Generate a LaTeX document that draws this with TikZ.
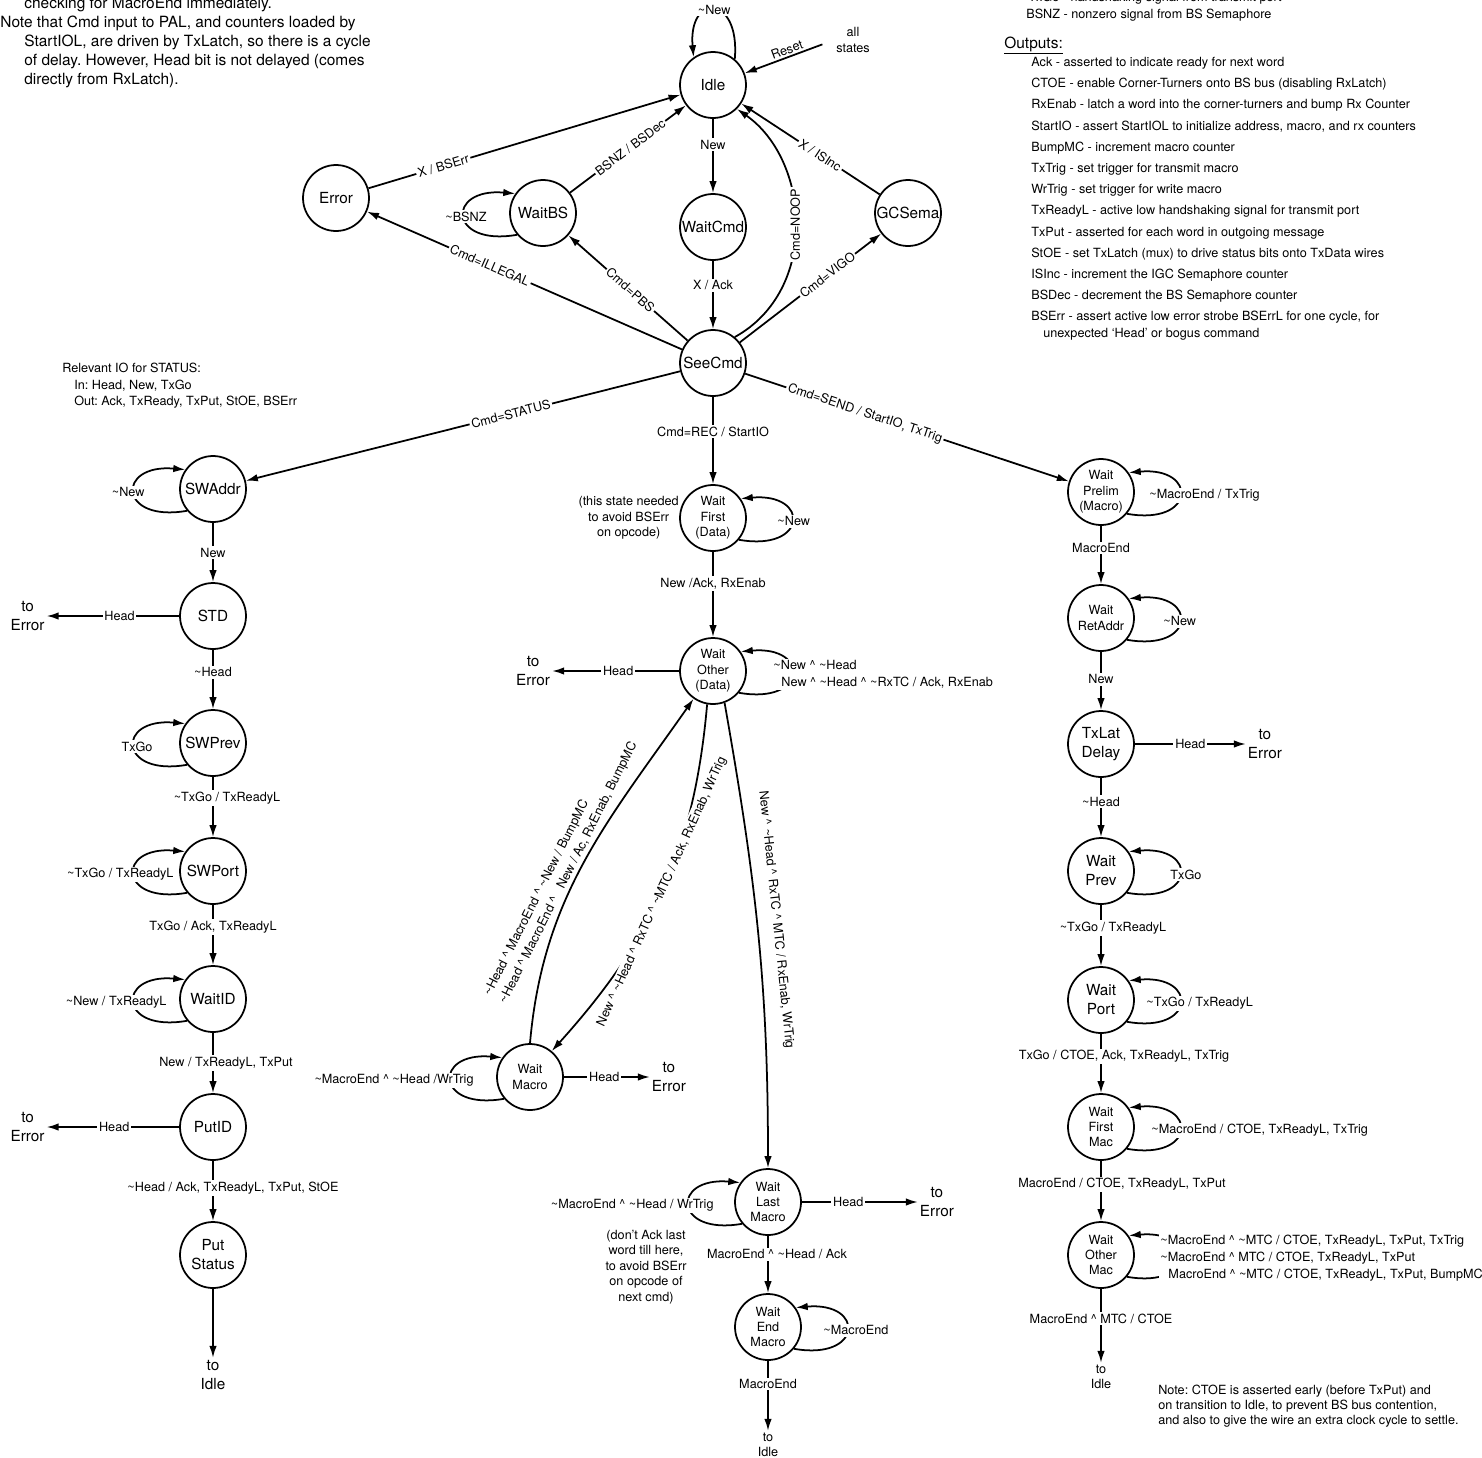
\documentclass[tikz,border=0pt]{standalone}
\usepackage{fontspec}
\setmainfont{TeX Gyre Heros}
\usetikzlibrary{arrows.meta, positioning}
\frenchspacing

\newcommand{\tnot}{\textasciitilde}
\newcommand{\andsym}{\textasciicircum}
\newcommand{\lblfont}{\fontsize{7.2}{9.4}\selectfont}
\newcommand{\statefont}{\fontsize{8.7}{10.8}\selectfont}
\newcommand{\subfont}{\fontsize{7.2}{8.8}\selectfont}
\newcommand{\notefont}{\fontsize{8.8}{10.8}\selectfont}

\begin{document}
\begin{tikzpicture}[
  x=0.02cm, y=0.02cm,
  state/.style={draw, circle, line width=1pt, minimum size=1.32cm, inner sep=0pt, align=center, font=\statefont},
  substate/.style={state, font=\subfont},
  term/.style={align=center, inner sep=1pt, font=\statefont},
  subterm/.style={term, font=\subfont},
  lbl/.style={fill=white, inner sep=1pt, font=\lblfont},
  lblL/.style={lbl, anchor=east, xshift=#1},
  lblR/.style={lbl, anchor=west, xshift=#1},
  txt/.style={anchor=base west, inner sep=0pt, font=\lblfont},
  arr/.style={-{Latex[length=2.4mm, width=1.5mm]}, line width=1pt},
  loopL/.style={out=190, in=175, distance=1.4cm},
  loopR/.style={out=-10, in=5, distance=1.4cm},
]
  \useasboundingbox (0,0) rectangle (1482,-1458);

  \foreach \xx/\yy/\entry [count=\i] in {24/8/{checking for MacroEnd immediately.},
      0/27.5/{Note that Cmd input to PAL, and counters loaded by},
      24/46.5/{StartIOL, are driven by TxLatch, so there is a cycle},
      24/65.3/{of delay. However, Head bit is not delayed (comes},
      24/84/{directly from RxLatch).}}
    \node[txt, font=\notefont] (note\i) at (\xx,-\yy) {\entry};

  \node[txt] (inTxGo) at (1028,-1.5) {TxGo - handshaking signal from transmit port};
  \node[txt] (inBSNZ) at (1026,-18.5) {BSNZ - nonzero signal from BS Semaphore};
  \node[txt, font=\notefont] (outHead) at (1004,-48) {\underline{Outputs:}};
  \foreach \entry [count=\i] in {{Ack - asserted to indicate ready for next word},
      {CTOE - enable Corner-Turners onto BS bus (disabling RxLatch)},
      {RxEnab - latch a word into the corner-turners and bump Rx Counter},
      {StartIO - assert StartIOL to initialize address, macro, and rx counters},
      {BumpMC - increment macro counter},
      {TxTrig - set trigger for transmit macro},
      {WrTrig - set trigger for write macro},
      {TxReadyL - active low handshaking signal for transmit port},
      {TxPut - asserted for each word in outgoing message},
      {StOE - set TxLatch (mux) to drive status bits onto TxData wires},
      {ISInc - increment the IGC Semaphore counter},
      {BSDec - decrement the BS Semaphore counter},
      {BSErr - assert active low error strobe BSErrL for one cycle, for}}
    \node[txt] (out\i) at (1031,{-66.5-21.2*(\i-1)}) {\entry};
  \node[txt] (outMore) at (1043,-337) {unexpected `Head' or bogus command};

  \node[txt] (io1) at (62,-372) {Relevant IO for STATUS:};
  \node[txt] (io2) at (74,-389) {In: Head, New, TxGo};
  \node[txt] (io3) at (74,-405) {Out: Ack, TxReady, TxPut, StOE, BSErr};

  \node[txt] (ctoe1) at (1158,-1394) {Note: CTOE is asserted early (before TxPut) and};
  \node[txt] (ctoe2) at (1158,-1409) {on transition to Idle, to prevent BS bus contention,};
  \node[txt] (ctoe3) at (1158,-1424) {and also to give the wire an extra clock cycle to settle.};

  \node[state] (Idle) at (713,-85) {Idle};
  \node[state] (WaitCmd) at (713,-227) {WaitCmd};
  \node[state] (SeeCmd) at (713,-363) {SeeCmd};
  \node[state] (Error) at (336,-198) {Error};
  \node[state] (WaitBS) at (543,-213) {WaitBS};
  \node[state] (GCSema) at (908,-213) {GCSema};

  \node[state] (SWAddr) at (213,-489) {SWAddr};
  \node[state] (STD) at (213,-616) {STD};
  \node[state] (SWPrev) at (213,-743) {SWPrev};
  \node[state] (SWPort) at (213,-871) {SWPort};
  \node[state] (WaitID) at (213,-999) {WaitID};
  \node[state] (PutID) at (213,-1127) {PutID};
  \node[state] (PutStatus) at (213,-1255) {Put\\Status};

  \node[substate] (WaitFirst) at (713,-518) {Wait\\First\\(Data)};
  \node[substate] (WaitOther) at (713,-671) {Wait\\Other\\(Data)};
  \node[substate] (WaitMacro) at (530,-1077) {Wait\\Macro};
  \node[substate] (WaitLast) at (768,-1202) {Wait\\Last\\Macro};
  \node[substate] (WaitEnd) at (768,-1327) {Wait\\End\\Macro};

  \node[substate] (WaitPrelim) at (1101,-492) {Wait\\Prelim\\(Macro)};
  \node[substate] (WaitRet) at (1101,-618) {Wait\\RetAddr};
  \node[state] (TxLat) at (1101,-744) {TxLat\\Delay};
  \node[state] (WaitPrev) at (1101,-871) {Wait\\Prev};
  \node[state] (WaitPort) at (1101,-1000) {Wait\\Port};
  \node[substate] (WaitFMac) at (1101,-1127) {Wait\\First\\Mac};
  \node[substate] (WaitOMac) at (1101,-1255) {Wait\\Other\\Mac};

  \node[subterm] (allStates) at (853,-40) {all\\states};
  \node[term, left=2.65cm of STD] (errSTD) {to\\Error};
  \node[term, left=2.65cm of PutID] (errPutID) {to\\Error};
  \node[term, left=2.54cm of WaitOther] (errOther) {to\\Error};
  \node[term, right=1.72cm of WaitMacro] (errMacro) {to\\Error};
  \node[term, right=2.32cm of WaitLast] (errLast) {to\\Error};
  \node[term, right=2.22cm of TxLat] (errTxLat) {to\\Error};
  \node[term, below=1.38cm of PutStatus] (idleL) {to\\Idle};
  \node[subterm, below=1.4cm of WaitEnd] (idleM) {to\\Idle};
  \node[subterm, below=1.48cm of WaitOMac] (idleR) {to\\Idle};

  \node[txt, anchor=center, align=center, font=\subfont, left=0pt of WaitFirst] (noteFirst) {(this state needed\\to avoid BSErr\\on opcode)};
  \node[txt, anchor=center, align=center, font=\subfont] (noteLast) at (646,-1267) {(don't Ack last\\word till here,\\to avoid BSErr\\on opcode of\\next cmd)};

  \draw[arr, shorten <=0.25cm] (allStates.west) -- node[midway, above, sloped, inner sep=1pt, font=\lblfont] {Reset} (Idle);
  \draw[arr] (Idle.50) to[out=85, in=95, distance=1.3cm] node[lbl] {\tnot New} (Idle.125);
  \draw[arr] (Idle) -- node[lbl, pos=.35] {New} (WaitCmd);
  \draw[arr] (WaitCmd) -- node[lbl, pos=.36] {X / Ack} (SeeCmd);
  \draw[arr] (SeeCmd.50) .. controls (820,-290) and (810,-160) .. (Idle.-45) node[lbl, pos=.5, rotate=90] {Cmd=NOOP};
  \draw[arr] (GCSema) -- node[lbl, sloped, pos=.43] {X / ISInc} (Idle);
  \draw[arr] (SeeCmd) -- node[lbl, sloped, pos=.62] {Cmd=VIGO} (GCSema);
  \draw[arr] (Error) -- node[lbl, sloped, pos=.24] {X / BSErr} (Idle);
  \draw[arr] (WaitBS) -- node[lbl, sloped, pos=.52] {BSNZ / BSDec} (Idle);
  \draw[arr] (SeeCmd) -- node[lbl, sloped, pos=.61] {Cmd=ILLEGAL} (Error);
  \draw[arr] (SeeCmd) -- node[lbl, sloped, pos=.48] {Cmd=PBS} (WaitBS);
  \draw[arr] (WaitBS.220) to[loopL] node[lblL=.5cm] {\tnot BSNZ} (WaitBS.145);
  \draw[arr] (SeeCmd) -- node[lbl, sloped, pos=.39] {Cmd=STATUS} (SWAddr);
  \draw[arr] (SeeCmd) -- node[lbl, sloped, pos=.37] {Cmd=SEND / StartIO, TxTrig} (WaitPrelim);
  \draw[arr] (SeeCmd) -- node[lbl, pos=.4] {Cmd=REC / StartIO} (WaitFirst);

  \draw[arr] (SWAddr.220) to[loopL] node[lblL=.26cm] {\tnot New} (SWAddr.145);
  \draw[arr] (SWAddr) -- node[lbl] {New} (STD);
  \draw[arr] (STD) -- node[lbl, pos=.45] {Head} (errSTD);
  \draw[arr] (STD) -- node[lbl, pos=.38] {\tnot Head} (SWPrev);
  \draw[arr] (SWPrev.220) to[loopL] node[lblL=.42cm] {TxGo} (SWPrev.145);
  \draw[arr] (SWPrev) -- node[lbl, pos=.35, xshift=.28cm] {\tnot TxGo / TxReadyL} (SWPort);
  \draw[arr] (SWPort.220) to[loopL] node[lblL=.84cm] {\tnot TxGo / TxReadyL} (SWPort.145);
  \draw[arr] (SWPort) -- node[lbl, pos=.37] {TxGo / Ack, TxReadyL} (WaitID);
  \draw[arr] (WaitID.220) to[loopL] node[lblL=.7cm] {\tnot New / TxReadyL} (WaitID.145);
  \draw[arr] (WaitID) -- node[lbl, pos=.5, xshift=.26cm] {New / TxReadyL, TxPut} (PutID);
  \draw[arr] (PutID) -- node[lbl, pos=.49] {Head} (errPutID);
  \draw[arr] (PutID) -- node[lbl, pos=.45, xshift=.4cm] {\tnot Head / Ack, TxReadyL, TxPut, StOE} (PutStatus);
  \draw[arr] (PutStatus) -- (idleL);

  \draw[arr] (WaitFirst.-40) to[loopR] node[lblR=-.34cm] {\tnot New} (WaitFirst.35);
  \draw[arr] (WaitFirst) -- node[lbl, pos=.37] {New /Ack, RxEnab} (WaitOther);
  \draw[arr] (WaitOther) -- node[lbl, pos=.48] {Head} (errOther);
  \draw[arr] (WaitOther.-40) to[loopR] node[lblR=-.42cm, align=left, font=\fontsize{7.2}{9.6}\selectfont] {\tnot New \andsym\ \tnot Head\\\hspace*{.16cm}New \andsym\ \tnot Head \andsym\ \tnot RxTC / Ack, RxEnab} (WaitOther.35);
  \draw[arr] (WaitMacro.north) to[out=85, in=235] node[lbl, fill=none, pos=.45, sloped, above, align=left, font=\fontsize{7.2}{9.8}\selectfont] {\tnot Head \andsym\ MacroEnd \andsym\ \tnot New / BumpMC\\\tnot Head \andsym\ MacroEnd \andsym\ \phantom{\tnot}New / Ac, RxEnab, BumpMC} (WaitOther.235);
  \draw[arr] (WaitOther.-100) to[out=-95, in=48] node[lbl, pos=.5, sloped] {New \andsym\ \tnot Head \andsym\ RxTC \andsym\ \tnot MTC / Ack, RxEnab, WrTrig} (WaitMacro.50);
  \draw[arr] (WaitOther.-70) to[out=-80, in=90] node[lbl, fill=none, pos=.47, sloped, above=6pt] {New \andsym\ \tnot Head \andsym\ RxTC \andsym\ MTC / RxEnab, WrTrig} (WaitLast.north);
  \draw[arr] (WaitMacro.220) to[loopL] node[lblL=.5cm] {\tnot MacroEnd \andsym\ \tnot Head /WrTrig} (WaitMacro.145);
  \draw[arr] (WaitMacro) -- node[lbl, pos=.47] {Head} (errMacro);
  \draw[arr] (WaitLast.220) to[loopL] node[lblL=.54cm] {\tnot MacroEnd \andsym\ \tnot Head / WrTrig} (WaitLast.145);
  \draw[arr] (WaitLast) -- node[lbl, pos=.4] {Head} (errLast);
  \draw[arr] (WaitLast) -- node[lbl, pos=.32, xshift=.18cm] {MacroEnd \andsym\ \tnot Head / Ack} (WaitEnd);
  \draw[arr] (WaitEnd.-40) to[loopR] node[lblR=-.52cm] {\tnot MacroEnd} (WaitEnd.35);
  \draw[arr] (WaitEnd) -- node[lbl, pos=.33] {MacroEnd} (idleM);

  \draw[arr] (WaitPrelim.-40) to[loopR] node[lblR=-.66cm] {\tnot MacroEnd / TxTrig} (WaitPrelim.35);
  \draw[arr] (WaitPrelim) -- node[lbl, pos=.38] {MacroEnd} (WaitRet);
  \draw[arr] (WaitRet.-40) to[loopR] node[lblR=-.38cm] {\tnot New} (WaitRet.35);
  \draw[arr] (WaitRet) -- node[lbl, pos=.47] {New} (TxLat);
  \draw[arr] (TxLat) -- node[lbl, pos=.5] {Head} (errTxLat);
  \draw[arr] (TxLat) -- node[lbl, pos=.4] {\tnot Head} (WaitPrev);
  \draw[arr] (WaitPrev.-40) to[loopR] node[lblR=-.24cm] {TxGo} (WaitPrev.35);
  \draw[arr] (WaitPrev) -- node[lbl, pos=.38, xshift=.24cm] {\tnot TxGo / TxReadyL} (WaitPort);
  \draw[arr] (WaitPort.-40) to[loopR] node[lblR=-.72cm] {\tnot TxGo / TxReadyL} (WaitPort.35);
  \draw[arr] (WaitPort) -- node[lbl, pos=.38, xshift=.46cm] {TxGo / CTOE, Ack, TxReadyL, TxTrig} (WaitFMac);
  \draw[arr] (WaitFMac.-40) to[loopR] node[lblR=-.62cm] {\tnot MacroEnd / CTOE, TxReadyL, TxTrig} (WaitFMac.35);
  \draw[arr] (WaitFMac) -- node[lbl, pos=.39, xshift=.42cm] {MacroEnd / CTOE, TxReadyL, TxPut} (WaitOMac);
  \draw[arr] (WaitOMac.-40) to[loopR] node[lblR=-.44cm, align=left, font=\fontsize{7.2}{9.6}\selectfont] {\tnot MacroEnd \andsym\ \tnot MTC / CTOE, TxReadyL, TxPut, TxTrig\\\tnot MacroEnd \andsym\ MTC / CTOE, TxReadyL, TxPut\\\hspace*{.16cm}MacroEnd \andsym\ \tnot MTC / CTOE, TxReadyL, TxPut, BumpMC} (WaitOMac.35);
  \draw[arr] (WaitOMac) -- node[lbl, pos=.4] {MacroEnd \andsym\ MTC / CTOE} (idleR);
\end{tikzpicture}
\end{document}
